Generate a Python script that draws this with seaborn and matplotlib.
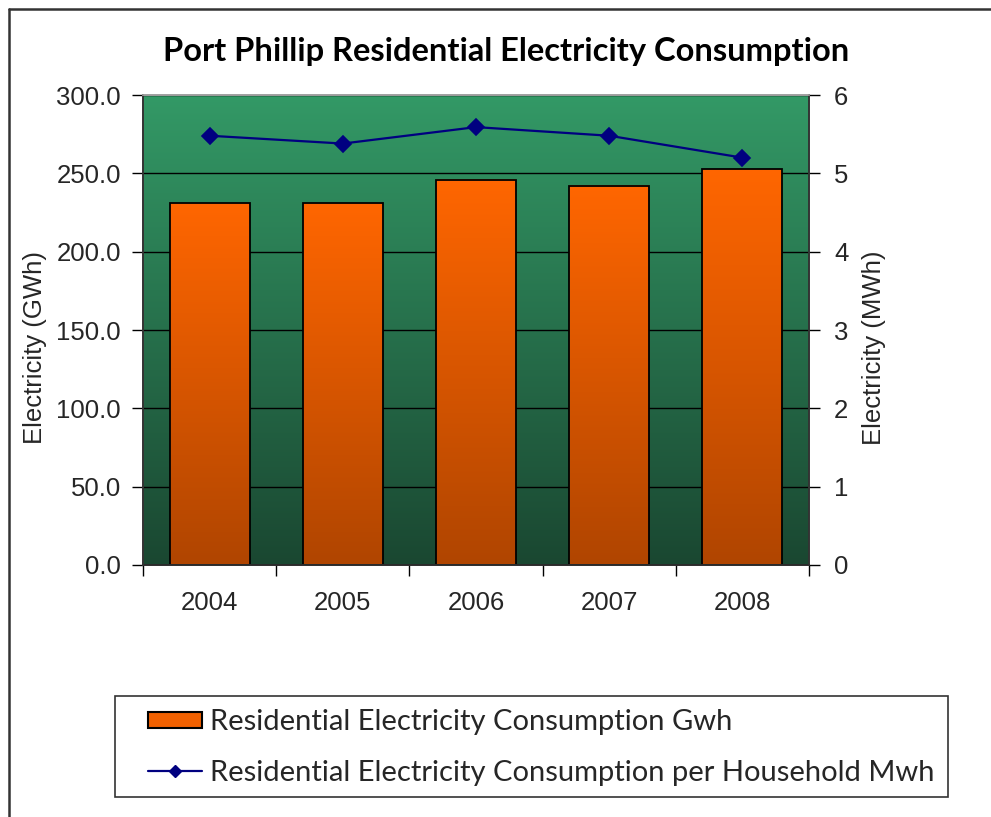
import numpy as np
import pandas as pd
import matplotlib
matplotlib.use("Agg")
import matplotlib.pyplot as plt
import seaborn as sns
from matplotlib.colors import LinearSegmentedColormap
from matplotlib.lines import Line2D
from matplotlib.patches import Patch, Rectangle
from matplotlib.ticker import FixedLocator, FormatStrFormatter

# --- data -------------------------------------------------------------
years = ["2004", "2005", "2006", "2007", "2008"]
consumption_gwh = [231.0, 231.0, 246.0, 242.0, 252.5]
per_household_mwh = [5.48, 5.38, 5.59, 5.48, 5.20]

title = "Port Phillip Residential Electricity Consumption"
left_label = "Electricity (GWh)"
right_label = "Electricity (MWh)"
bar_legend = "Residential Electricity Consumption Gwh"
line_legend = "Residential Electricity Consumption per Household Mwh"

df = pd.DataFrame({"year": years, "gwh": consumption_gwh, "mwh": per_household_mwh})

# --- style ------------------------------------------------------------
sns.set_theme(style="white")
plt.rcParams["font.family"] = ["Liberation Sans", "DejaVu Sans"]
TICK_FS = 18.5
HEAD_FONT = ["Lato", "DejaVu Sans"]

green_cmap = LinearSegmentedColormap.from_list("bg", ["#1A4731", "#339966"])
orange_cmap = LinearSegmentedColormap.from_list("bar", ["#B04500", "#FF6600"])
LINE_COLOR = "#000080"

W, H = 991, 817
fig = plt.figure(figsize=(W / 100, H / 100), dpi=100)
fig.patch.set_facecolor("white")
ax = fig.add_axes([143 / W, 1 - 565 / H, (809 - 143) / W, (565 - 95) / H])

# bars (seaborn categorical positions 0..4)
sns.barplot(data=df, x="year", y="gwh", ax=ax, width=0.6, color="#FF6600",
            edgecolor="black", linewidth=1.3, saturation=1)

# vertical gradient inside each bar
grad = np.linspace(0, 1, 256).reshape(-1, 1)
for p in ax.patches:
    x0, y0, w, h = p.get_x(), p.get_y(), p.get_width(), p.get_height()
    ax.imshow(grad, extent=(x0, x0 + w, y0, y0 + h), origin="lower",
              aspect="auto", cmap=orange_cmap, zorder=1.5, interpolation="bilinear")
    p.set_facecolor("none")
    p.set_zorder(2)

# plot-area background gradient
ax.set_facecolor("none")
ax.imshow(grad, extent=(-0.5, 4.5, 0, 300), origin="lower", aspect="auto",
          cmap=green_cmap, zorder=0, interpolation="bilinear")
ax.set_xlim(-0.5, 4.5)
ax.set_ylim(0, 300)

# horizontal gridlines
ax.yaxis.set_major_locator(FixedLocator(np.arange(0, 301, 50)))
ax.yaxis.set_major_formatter(FormatStrFormatter("%.1f"))
ax.grid(axis="y", color="black", linewidth=1.0)
ax.grid(axis="x", visible=False)
ax.set_axisbelow(True)
for gl in ax.get_ygridlines():
    gl.set_zorder(0.8)

# secondary axis: per household line
ax2 = ax.twinx()
sns.pointplot(data=df, x="year", y="mwh", ax=ax2, color=LINE_COLOR,
              markers="D", linestyles="-", markersize=8, linewidth=1.6,
              errorbar=None)
ax2.set_ylim(0, 6)
ax2.set_xlim(-0.5, 4.5)
ax2.yaxis.set_major_locator(FixedLocator(np.arange(0, 7, 1)))
ax2.yaxis.set_major_formatter(FormatStrFormatter("%d"))
ax2.grid(False)

# x ticks: labels at category centres, tick marks on boundaries
ax.set_xticks(range(len(years)))
ax.set_xticklabels(years)
ax.set_xticks(np.arange(-0.5, 4.6, 1.0), minor=True)
ax.tick_params(axis="x", which="major", length=0, pad=19, labelsize=TICK_FS)
ax.tick_params(axis="x", which="minor", bottom=True, length=8, width=1,
               direction="out", color="black")
ax.tick_params(axis="y", which="major", left=True, length=8, width=1,
               direction="out", color="black", pad=8, labelsize=TICK_FS)
ax2.tick_params(axis="y", which="major", right=True, length=8, width=1,
                direction="out", color="black", pad=10, labelsize=TICK_FS)
ax2.tick_params(axis="x", bottom=False, labelbottom=False)
ax.set_xlabel("")
ax2.set_xlabel("")

# spines
for a in (ax, ax2):
    for side, sp in a.spines.items():
        sp.set_visible(True)
        sp.set_linewidth(1.2)
        sp.set_color("#333333")
    a.spines["top"].set_color("#A0A0A0")
ax.spines["bottom"].set_color("black")

# axis labels
ax.set_ylabel(left_label, fontsize=TICK_FS)
ax.yaxis.set_label_coords(-0.144, 0.463)
ax2.set_ylabel(right_label, fontsize=TICK_FS)
ax2.yaxis.set_label_coords(1.079, 0.463)

# title
fig.text(506 / W, 1 - 52 / H, title, ha="center", va="center",
         fontsize=23.5, fontweight="bold", family=HEAD_FONT, color="black")

# legend below the chart, inside its own box
LEG_FS = 21
fig.add_artist(Rectangle((115 / W, 1 - 797 / H), (948 - 115) / W, 101 / H,
                         transform=fig.transFigure, facecolor="white",
                         edgecolor="#333333", linewidth=1.2, zorder=3))
handles = [
    Patch(facecolor="#F06000", edgecolor="black", linewidth=1.5),
    Line2D([0], [0], color=LINE_COLOR, linewidth=1.6, marker="D", markersize=6.5),
]
leg = fig.legend(handles, [bar_legend, line_legend],
                 loc="center left", bbox_to_anchor=(148 / W, 1 - 747.5 / H),
                 frameon=False, prop={"family": HEAD_FONT, "size": LEG_FS},
                 handlelength=1.85, handleheight=0.45, handletextpad=0.28,
                 borderpad=0, labelspacing=0.83, borderaxespad=0)
leg.set_zorder(4)

# outer chart border (top and left edges)
fig.add_artist(Line2D([9 / W, 1.0], [1 - 9 / H, 1 - 9 / H], transform=fig.transFigure,
                      color="#333333", linewidth=1.8))
fig.add_artist(Line2D([9 / W, 9 / W], [1 - 9 / H, 0.0], transform=fig.transFigure,
                      color="#333333", linewidth=1.8))

fig.savefig("out.png", dpi=100)
